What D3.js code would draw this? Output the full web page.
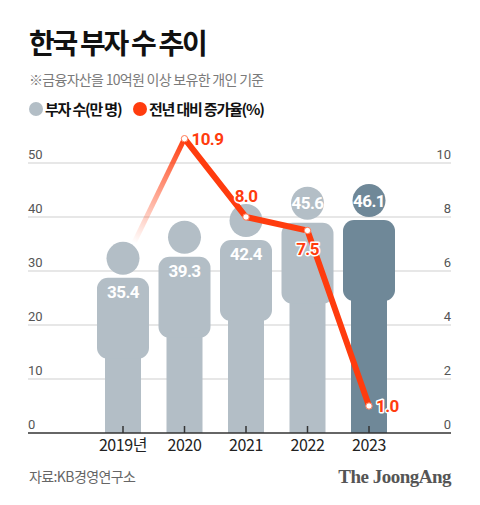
<!DOCTYPE html>
<html><head><meta charset="utf-8">
<script src="https://cdn.jsdelivr.net/npm/d3@7"></script>
<style>
html,body{margin:0;padding:0;background:#fff;}
svg{display:block;font-family:"Noto Sans CJK KR","Noto Sans",sans-serif;}
</style></head>
<body>
<svg id="c" width="480" height="505"></svg>
<script>
// ---- data ----
const years = ["2019", "2020", "2021", "2022", "2023"];
const yearLabels = ["2019년", "2020", "2021", "2022", "2023"];
const richCount = [35.4, 39.3, 42.4, 45.6, 46.1];          // 만 명
const growthRate = [6.2, 10.9, 8.0, 7.5, 1.0];             // % (2019 unlabeled, faded lead-in)
const growthShown = [false, true, true, true, true];
const countLabelPlace = ["body", "body", "body", "head", "head"];
const growthLabelPlace = ["none", "right", "top", "bottom", "right"];
const leftTicks = [0, 10, 20, 30, 40, 50];
const rightTicks = [0, 2, 4, 6, 8, 10];

const svg = d3.select("#c");
const red = "#ff3c0e", gray = "#b3bec6", dark = "#6f8898";
const numFont = "Roboto, 'Liberation Sans', sans-serif";

// title etc.
svg.append("text").attr("x", 29).attr("y", 54).text("한국 부자 수 추이")
  .attr("font-size", 28).attr("font-weight", 700).attr("letter-spacing", -2.3).attr("fill", "#111");
svg.append("text").attr("x", 29).attr("y", 85).text("※금융자산을 10억원 이상 보유한 개인 기준")
  .attr("font-size", 14).attr("letter-spacing", -0.7).attr("fill", "#7a7a7a");
// legend
svg.append("circle").attr("cx", 36).attr("cy", 109).attr("r", 7).attr("fill", gray);
svg.append("text").attr("x", 45).attr("y", 114.5).text("부자 수(만 명)")
  .attr("font-size", 15).attr("font-weight", 700).attr("letter-spacing", -1.2).attr("fill", "#111");
svg.append("circle").attr("cx", 140).attr("cy", 109).attr("r", 7).attr("fill", red);
svg.append("text").attr("x", 149).attr("y", 114.5).text("전년 대비 증가율(%)")
  .attr("font-size", 15).attr("font-weight", 700).attr("letter-spacing", -1.2).attr("fill", "#111");

// scales
const x = d3.scalePoint().domain(years).range([123, 369]);
const yL = d3.scaleLinear().domain([0, 50]).range([433, 163]);
const yR = d3.scaleLinear().domain([0, 10]).range([433, 163]);
const gx0 = 28, gx1 = 451;

// gridlines
svg.append("g").selectAll("line").data(leftTicks.slice(1)).join("line")
  .attr("x1", gx0).attr("x2", gx1).attr("y1", d => yL(d)).attr("y2", d => yL(d))
  .attr("stroke", "#cfcfcf").attr("stroke-width", 1);
svg.append("g").selectAll("text").data(leftTicks).join("text")
  .attr("x", gx0).attr("y", d => yL(d) - 4).text(d => d)
  .attr("font-size", 13).attr("fill", "#555").style("font-family", numFont);
svg.append("g").selectAll("text").data(rightTicks).join("text")
  .attr("x", gx1).attr("y", d => yR(d) - 4).attr("text-anchor", "end").text(d => d)
  .attr("font-size", 13).attr("fill", "#555").style("font-family", numFont);

// figures
const headR = 16.5, bodyW = 52, bodyH = 81, legW = 36;
const fig = svg.append("g");
years.forEach((yr, i) => {
  const cx = x(yr), top = yL(richCount[i]);
  const col = i === years.length - 1 ? dark : gray;
  const g = fig.append("g");
  g.append("circle").attr("cx", cx).attr("cy", top + headR).attr("r", headR).attr("fill", col);
  const bTop = top + 36;
  g.append("rect").attr("x", cx - legW / 2).attr("y", bTop + bodyH - 10).attr("width", legW)
    .attr("height", yL(0) - (bTop + bodyH - 10)).attr("fill", col);
  g.append("rect").attr("x", cx - bodyW / 2).attr("y", bTop).attr("width", bodyW).attr("height", bodyH)
    .attr("rx", 11).attr("fill", col);
  const ly = countLabelPlace[i] === "head" ? top + headR : bTop + 14;
  g.append("text").attr("x", cx).attr("y", ly).attr("dy", "0.36em").attr("text-anchor", "middle")
    .text(richCount[i].toFixed(1)).attr("font-size", 17).attr("font-weight", 700)
    .attr("letter-spacing", -0.6).attr("fill", "#fff").style("font-family", numFont);
});

// baseline & ticks
svg.append("line").attr("x1", gx0).attr("x2", gx1).attr("y1", yL(0)).attr("y2", yL(0))
  .attr("stroke", "#333").attr("stroke-width", 1.5);
svg.append("g").selectAll("line").data(years).join("line")
  .attr("x1", d => x(d)).attr("x2", d => x(d)).attr("y1", yL(0) - 7).attr("y2", yL(0))
  .attr("stroke", "#333").attr("stroke-width", 1.5);
svg.append("g").selectAll("text").data(years).join("text")
  .attr("x", d => x(d)).attr("y", 451).attr("text-anchor", "middle")
  .text((d, i) => yearLabels[i]).attr("font-size", 16).attr("letter-spacing", -0.4).attr("fill", "#222");

// growth line
const pts = years.map((yr, i) => [x(yr), yR(growthRate[i])]);
const defs = svg.append("defs");
const grad = defs.append("linearGradient").attr("id", "fade").attr("gradientUnits", "userSpaceOnUse")
  .attr("x1", pts[0][0]).attr("y1", pts[0][1]).attr("x2", pts[1][0]).attr("y2", pts[1][1]);
grad.append("stop").attr("offset", 0.18).attr("stop-color", red).attr("stop-opacity", 0);
grad.append("stop").attr("offset", 1).attr("stop-color", red).attr("stop-opacity", 1);
const line = d3.line();
svg.append("path").attr("d", line(pts.slice(0, 2))).attr("fill", "none")
  .attr("stroke", "url(#fade)").attr("stroke-width", 5);
svg.append("path").attr("d", line(pts.slice(1))).attr("fill", "none")
  .attr("stroke", red).attr("stroke-width", 6).attr("stroke-linejoin", "miter");
svg.append("g").selectAll("circle").data(pts.filter((p, i) => growthShown[i])).join("circle")
  .attr("cx", d => d[0]).attr("cy", d => d[1]).attr("r", 3.2)
  .attr("fill", "#fff").attr("stroke", "#ff7a55").attr("stroke-width", 1);
years.forEach((yr, i) => {
  const pl = growthLabelPlace[i];
  if (pl === "none") return;
  const [px, py] = pts[i];
  let tx = px, ty = py, anchor = "middle";
  if (pl === "right") { tx = px + 7; anchor = "start"; }
  if (pl === "top") { ty = py - 21; }
  if (pl === "bottom") { ty = py + 18; }
  svg.append("text").attr("x", tx).attr("y", ty).attr("dy", "0.36em").attr("text-anchor", anchor)
    .text(growthRate[i].toFixed(1)).attr("font-size", 17).attr("font-weight", 700)
    .attr("letter-spacing", -0.6).attr("fill", red).attr("stroke", "#fff").attr("stroke-width", 3)
    .attr("paint-order", "stroke").attr("stroke-linejoin", "round")
    .style("font-family", numFont);
});

// footer
svg.append("text").attr("x", 29).attr("y", 482).text("자료:KB경영연구소")
  .attr("font-size", 14).attr("letter-spacing", -0.6).attr("fill", "#666");
svg.append("text").attr("x", 451).attr("y", 483).attr("text-anchor", "end").text("The JoongAng")
  .style("font-family", "'Liberation Serif', 'DejaVu Serif', serif").attr("font-weight", 700).attr("font-size", 19)
  .attr("letter-spacing", -0.5).attr("fill", "#555");
</script>
</body></html>
